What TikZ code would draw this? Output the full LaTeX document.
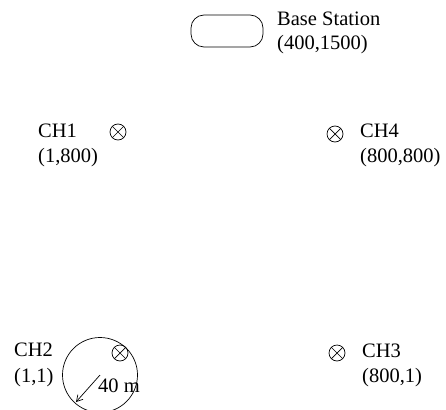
\documentclass[tikz,border=0pt]{standalone}
\usepackage{fontspec}
\setmainfont{Liberation Serif}
\usetikzlibrary{arrows.meta}
\begin{document}
\begin{tikzpicture}[x=1pt,y=-1pt,
  lbl/.style={anchor=base west,inner sep=0pt,font=\fontsize{20.5}{24}\selectfont},
  head/.style={draw,circle,minimum size=16pt,inner sep=0pt,line width=0.7pt,
    path picture={\draw[line width=0.7pt]
      (path picture bounding box.north west) -- (path picture bounding box.south east)
      (path picture bounding box.north east) -- (path picture bounding box.south west);}},
  station/.style={draw,rounded corners=13pt,minimum width=72pt,minimum height=32pt,
    line width=0.7pt,inner sep=0pt},
  thin/.style={line width=0.7pt}]
\clip (0,0) rectangle (446,409);

% base station
\node[station] (base) at (227,31) {};
\node[lbl] (basename) at (277,26) {Base Station};
\node[lbl] (basepos) at (277,50) {(400,1500)};

% cluster heads
\node[head] (ch1) at (118,132) {};
\node[lbl] (ch1name) at (38,137) {CH1};
\node[lbl] (ch1pos) at (38,162) {(1,800)};

\node[head] (ch4) at (335,134) {};
\node[lbl] (ch4name) at (360,137) {CH4};
\node[lbl] (ch4pos) at (360,162) {(800,800)};

\node[head] (ch2) at (120,353) {};
\node[lbl] (ch2name) at (14,356) {CH2};
\node[lbl] (ch2pos) at (14,382) {(1,1)};

\node[head] (ch3) at (337,353) {};
\node[lbl] (ch3name) at (362,357) {CH3};
\node[lbl] (ch3pos) at (362,382) {(800,1)};

% coverage radius around CH2
\coordinate (centre) at (100,375);
\coordinate (rim) at (76,402);
\draw[thin] (centre) circle[radius=37.5];
\draw[thin,-{Straight Barb[length=6pt,width=7pt]}] (centre) -- (rim);
\node[lbl] (radius) at (98,392) {40 m};
\end{tikzpicture}
\end{document}
